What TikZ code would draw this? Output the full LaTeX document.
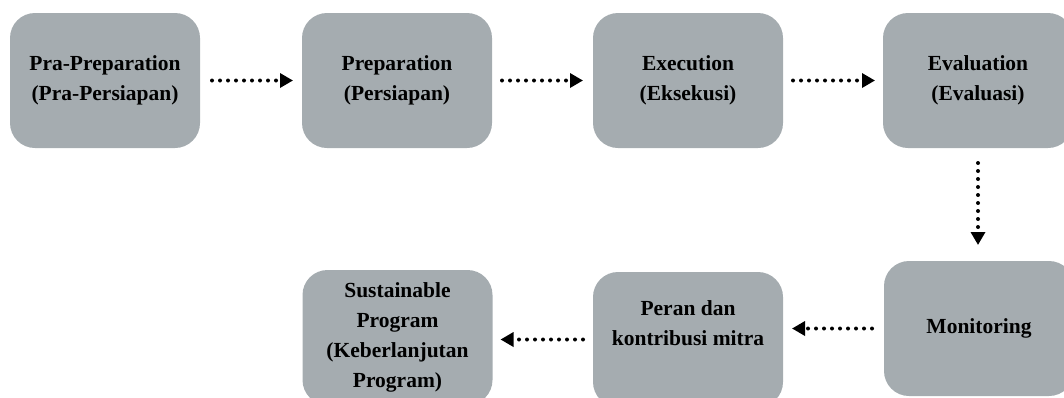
\documentclass[tikz,border=0pt]{standalone}
\usepackage{fontspec}
\setmainfont{Liberation Serif}
\usetikzlibrary{arrows.meta,calc}
\definecolor{boxgray}{RGB}{165,172,176}
\begin{document}
\begin{tikzpicture}[x=1pt,y=-1pt,
  stagebox/.style={fill=boxgray,draw=none,rounded corners=25pt,minimum width=190pt,minimum height=135pt,inner sep=0pt,outer sep=0pt,align=center,font=\fontsize{21.5}{30}\selectfont\bfseries},
  stagetext/.style={inner sep=0pt,align=center,font=\fontsize{21.5}{30}\selectfont\bfseries},
  flow/.style={line width=4pt,line cap=round,dash pattern=on 0pt off 8pt,-{Triangle[length=13pt,width=14pt]}}]
\useasboundingbox (0,0) rectangle (1064,397);
\clip (0,0) rectangle (1064,397);
% top row
\node[stagebox] (b1) at (105,80.5) {Pra-Preparation\\(Pra-Persiapan)};
\node[stagebox] (b2) at (397,80.5) {Preparation\\(Persiapan)};
\node[stagebox] (b3) at (688,80.5) {Execution\\(Eksekusi)};
\node[stagebox] (b4) at (978,80.5) {Evaluation\\(Evaluasi)};
% bottom row
\node[stagebox] (b5) at (979,328.5) {Monitoring};
\node[stagebox] (b6) at (688,339.5) {};
\node[stagetext] (t6) at (688,323) {Peran dan\\kontribusi mitra};
\node[stagebox] (b7) at (397.5,337.5) {Sustainable\\Program\\(Keberlanjutan\\Program)};
% connectors
\draw[flow,shorten <=12pt,shorten >=9pt] (b1.east) -- (b2.west);
\draw[flow,shorten <=10pt,shorten >=10pt] (b2.east) -- (b3.west);
\draw[flow,shorten <=10pt,shorten >=8pt] (b3.east) -- (b4.west);
\draw[flow,shorten <=15pt,shorten >=16pt] (b4.south) -- (b4.south |- b5.north);
\draw[flow,shorten <=12pt,shorten >=9pt] (b5.west) -- (b5.west -| b6.east);
\draw[flow,shorten <=10pt,shorten >=8pt] (b6.west) -- (b6.west -| b7.east);
\end{tikzpicture}
\end{document}
